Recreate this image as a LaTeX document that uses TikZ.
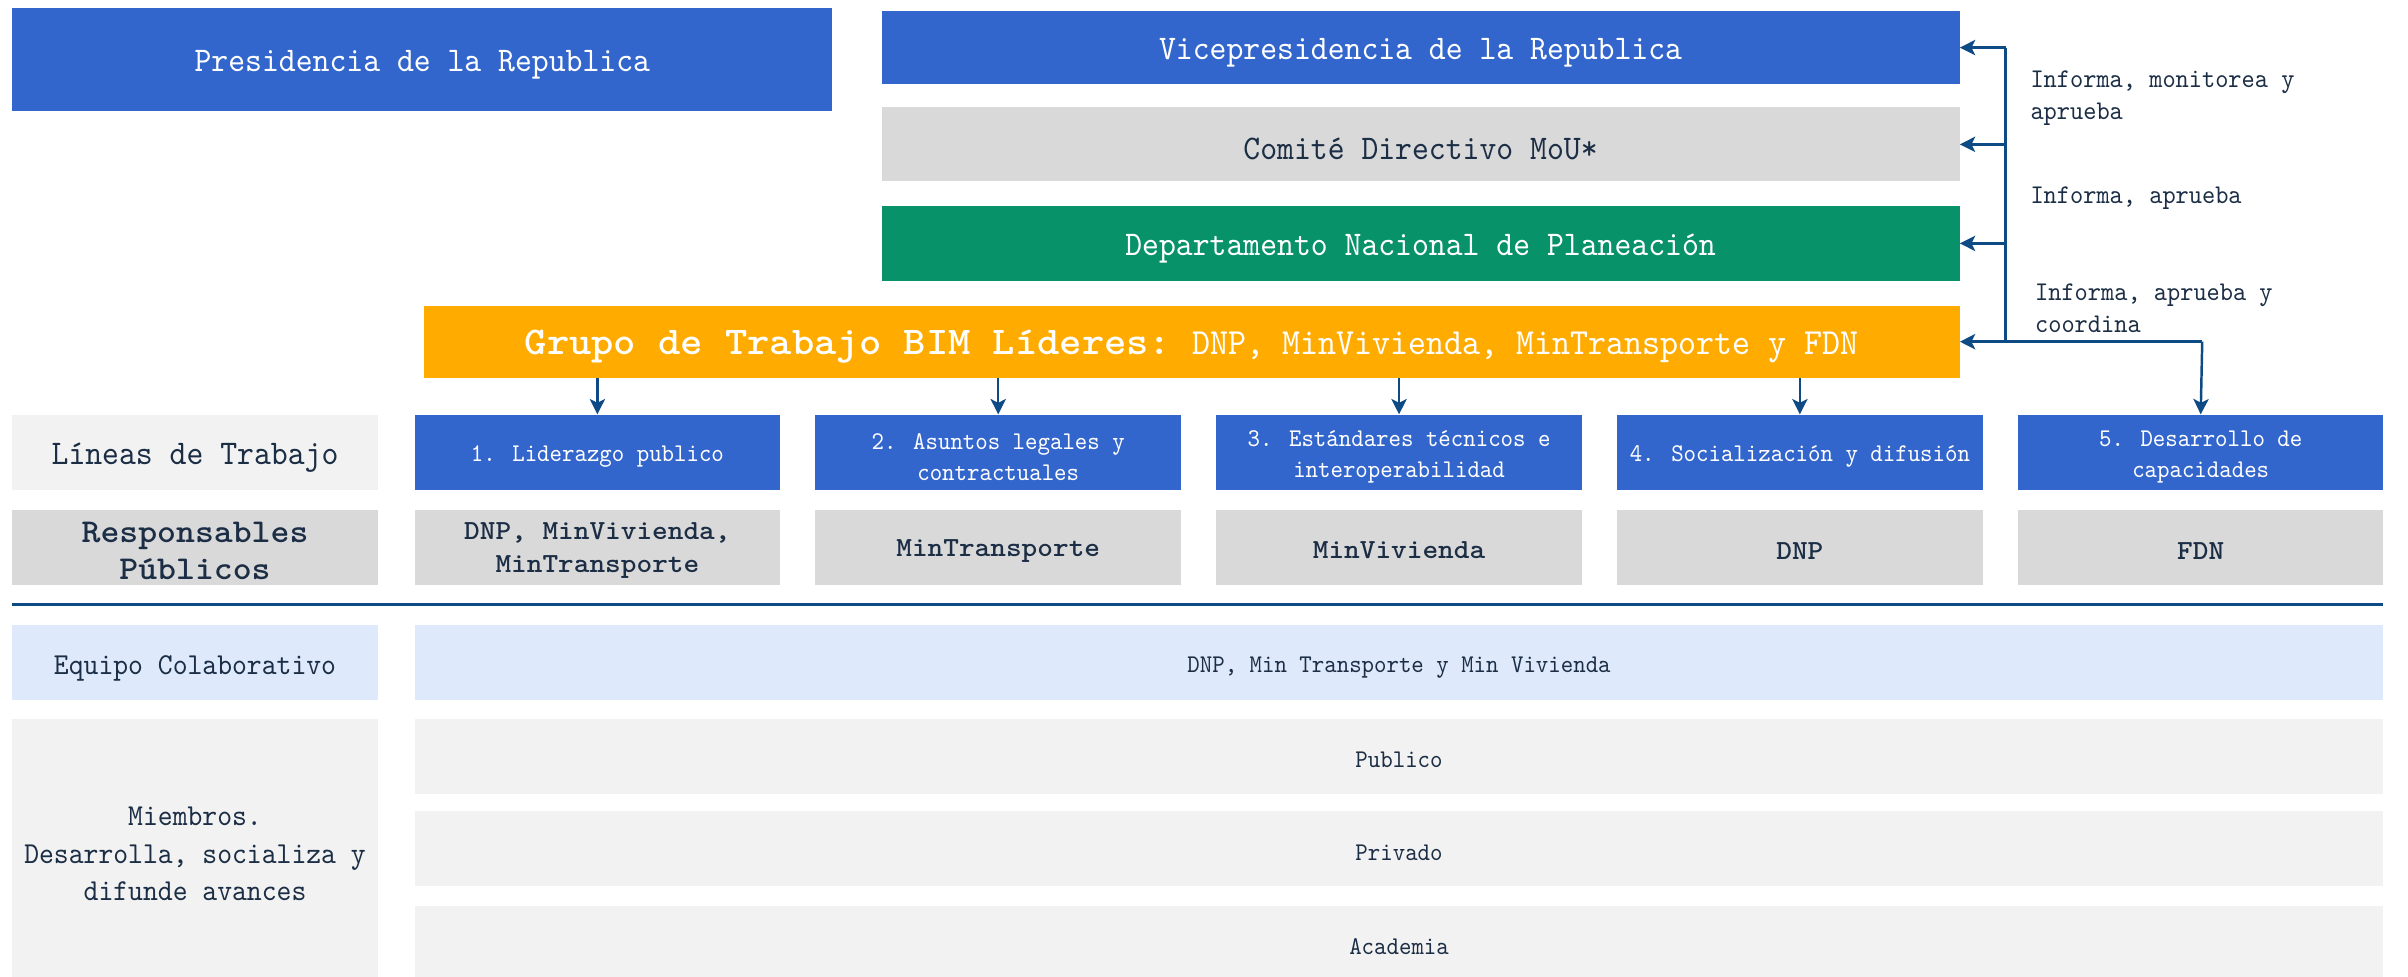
\documentclass[tikz,border=0pt]{standalone}
\usepackage{fontspec}
\usetikzlibrary{arrows.meta}
\newfontfamily\cn{lmmono10-regular.otf}[FakeStretch=0.93]
\newfontfamily\cbd{lmmonolt10-bold.otf}[FakeStretch=1.08]
\newcommand\fntBig{\cn\fontsize{22.5}{24}\selectfont}
\newcommand\fntGrR{\cn\fontsize{24}{26}\selectfont}
\newcommand\fntBox{\cn\fontsize{16.6}{20}\selectfont}
\newcommand\fntLab{\cn\fontsize{17.6}{21}\selectfont}
\newcommand\fntMid{\cn\fontsize{19.8}{24.5}\selectfont}
\newcommand\fntSm{\cn\fontsize{16.6}{20}\selectfont}
\newcommand\fntBold{\cbd\fontsize{18}{22}\selectfont}
\newcommand\fntBoldL{\cbd\fontsize{21.7}{24}\selectfont}
\newcommand\fntGrB{\cbd\fontsize{25.6}{26}\selectfont}
\definecolor{blu}{HTML}{3366CC}
\definecolor{gry}{HTML}{D9D9D9}
\definecolor{grn}{HTML}{08926A}
\definecolor{org}{HTML}{FFAB00}
\definecolor{lgry}{HTML}{F2F2F2}
\definecolor{lblu}{HTML}{DEE9FC}
\definecolor{navy}{HTML}{0E4A84}
\definecolor{ink}{HTML}{1C2E45}
\begin{document}
\begin{tikzpicture}[x=1pt,y=-1pt,
  box/.style={rectangle, inner sep=0pt, anchor=center},
  tx/.style={inner sep=0pt, align=center, anchor=center},
  topbox/.style={box, minimum width=702pt, minimum height=48pt},
  colbox/.style={box, minimum width=238pt, minimum height=49pt},
  linetx/.style={tx, text=white, font=\fntBox},
  resptx/.style={tx, text=ink, font=\fntBold},
  membox/.style={box, fill=lgry, minimum width=1282pt},
  lab/.style={inner sep=0pt, anchor=west, align=left, text=ink, font=\fntLab},
  ln/.style={draw=navy, line width=1.6pt},
  arr/.style={ln, -{Stealth[width=10pt,length=10pt,inset=2.5pt]}}]
\useasboundingbox (0,0) rectangle (1568,636);

% ---------- boxes ----------
\node[box, fill=blu, minimum width=534pt, minimum height=67pt] (pres) at (275,38.5) {};
\node[topbox, fill=blu] (vice) at (925,31) {};
\node[topbox, fill=gry] (comite) at (925,94) {};
\node[topbox, fill=grn, minimum height=49pt] (dnp) at (925,158.5) {};
\node[box, fill=org, minimum width=1000pt, minimum height=47pt] (grupo) at (776,222.5) {};

\node[colbox, fill=lgry] (lin) at (127,294.5) {};
\node[colbox, fill=blu] (l1) at (389,294.5) {};
\node[colbox, fill=blu] (l2) at (650,294.5) {};
\node[colbox, fill=blu] (l3) at (911,294.5) {};
\node[colbox, fill=blu] (l4) at (1172,294.5) {};
\node[colbox, fill=blu] (l5) at (1433,294.5) {};

\node[colbox, fill=gry] (resp) at (127,356.5) {};
\node[colbox, fill=gry] (r1) at (389,356.5) {};
\node[colbox, fill=gry] (r2) at (650,356.5) {};
\node[colbox, fill=gry] (r3) at (911,356.5) {};
\node[colbox, fill=gry] (r4) at (1172,356.5) {};
\node[colbox, fill=gry] (r5) at (1433,356.5) {};

\node[colbox, fill=lblu] (eqL) at (127,431.5) {};
\node[box, fill=lblu, minimum width=1282pt, minimum height=49pt] (eqR) at (911,431.5) {};
\node[box, fill=lgry, minimum width=238pt, minimum height=168pt] (miem) at (127,552) {};
\node[membox, minimum height=49pt] (pub) at (911,492.5) {};
\node[membox, minimum height=49pt] (priv) at (911,552.5) {};
\node[membox, minimum height=46pt] (acad) at (911,613) {};

% ---------- texts ----------
\node[tx, text=white, font=\fntBig] (presT) at ([yshift=-3.5pt]pres.center) {Presidencia de la Republica};
\node[tx, text=white, font=\fntBig] (viceT) at ([yshift=-3.5pt]vice.center) {Vicepresidencia de la Republica};
\node[tx, text=ink, font=\fntBig] (comiteT) at ([yshift=-3pt]comite.center) {Comité Directivo MoU*};
\node[tx, text=white, font=\fntBig] (dnpT) at ([yshift=-3.5pt]dnp.center) {Departamento Nacional de Planeación};
\node[tx, text=white] (grupoT) at ([yshift=-3pt]grupo.center) {{\fntGrB Grupo de Trabajo BIM Líderes:}\hspace{14pt}{\fntGrR DNP, MinVivienda, MinTransporte y FDN}};

\node[tx, text=ink, font=\fntBig] (linT) at ([yshift=-3.5pt]lin.center) {Líneas de Trabajo};
\node[linetx] (l1T) at ([yshift=-3pt]l1.center) {1. Liderazgo publico};
\node[linetx] (l2T) at ([yshift=-3pt]l2.center) {2. Asuntos legales y\\contractuales};
\node[linetx] (l3T) at ([yshift=-3pt]l3.center) {3. Estándares técnicos e\\interoperabilidad};
\node[linetx] (l4T) at ([yshift=-3pt]l4.center) {4. Socialización y difusión};
\node[linetx] (l5T) at ([yshift=-3pt]l5.center) {5. Desarrollo de\\capacidades};

\node[resptx, font=\fntBoldL] (respT) at ([yshift=-2pt]resp.center) {Responsables\\Públicos};
\node[resptx] (r1T) at ([yshift=-2pt]r1.center) {DNP, MinVivienda,\\MinTransporte};
\node[resptx] (r2T) at ([yshift=-2pt]r2.center) {MinTransporte};
\node[resptx] (r3T) at ([yshift=-2pt]r3.center) {MinVivienda};
\node[resptx] (r4T) at ([yshift=-2pt]r4.center) {DNP};
\node[resptx] (r5T) at ([yshift=-2pt]r5.center) {FDN};

\node[tx, text=ink, font=\fntMid] (eqLT) at ([yshift=-3.5pt]eqL.center) {Equipo Colaborativo};
\node[tx, text=ink, font=\fntSm] (eqRT) at ([yshift=-3pt]eqR.center) {DNP, Min Transporte y Min Vivienda};
\node[tx, text=ink, font=\fntMid] (miemT) at ([yshift=-4pt]miem.center) {Miembros.\\Desarrolla, socializa y\\difunde avances};
\node[tx, text=ink, font=\fntSm] (pubT) at ([yshift=-2.5pt]pub.center) {Publico};
\node[tx, text=ink, font=\fntSm] (privT) at ([yshift=-2.5pt]priv.center) {Privado};
\node[tx, text=ink, font=\fntSm] (acadT) at ([yshift=-3.5pt]acad.center) {Academia};

% ---------- separator ----------
\coordinate (sepL) at (8,393.5);
\coordinate (sepR) at (1552,393.5);
\draw[draw=navy, line width=2pt] (sepL) -- (sepR);

% ---------- connectors on the right ----------
\coordinate (tv) at (1306,31);
\coordinate (tc) at (1306,94);
\coordinate (td) at (1306,158.5);
\coordinate (tg) at (1306,222.5);
\coordinate (b5) at (1434,222.5);
\draw[ln] (tv) -- (tg);
\draw[arr] (tv) -- (vice.east);
\draw[arr] (tc) -- (comite.east);
\draw[arr] (td) -- (dnp.east);
\draw[arr] (b5) -- (grupo.east);
\draw[arr] (b5) -- (l5.north);

% ---------- arrows from the group down to lines 1-4 ----------
\draw[arr] (grupo.south -| l1.north) -- (l1.north);
\draw[arr] (grupo.south -| l2.north) -- (l2.north);
\draw[arr] (grupo.south -| l3.north) -- (l3.north);
\draw[arr] (grupo.south -| l4.north) -- (l4.north);

% ---------- labels ----------
\node[lab] (lab1) at (1322,64) {Informa, monitorea y\\aprueba};
\node[lab] (lab2) at (1322,129) {Informa, aprueba};
\node[lab] (lab3) at (1325,200.5) {Informa, aprueba y\\coordina};
\end{tikzpicture}
\end{document}
